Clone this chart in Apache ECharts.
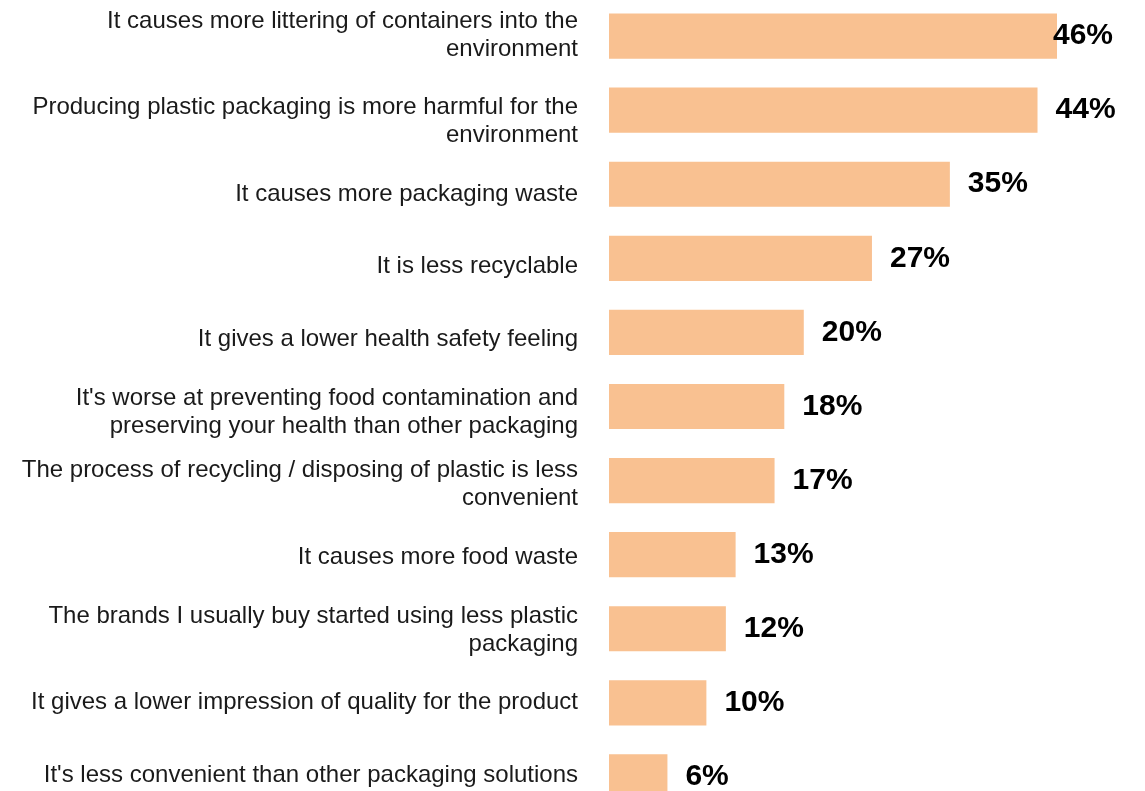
<!DOCTYPE html>
<html>
<head>
<meta charset="utf-8">
<script src="https://cdn.jsdelivr.net/npm/echarts@6/dist/echarts.min.js"></script>
<style>
html,body{margin:0;padding:0;background:#fff;}
#chart{width:1145px;height:791px;}
</style>
</head>
<body>
<div id="chart"></div>
<script>
const categories = [
  "It causes more littering of containers into the\nenvironment",
  "Producing plastic packaging is more harmful for the\nenvironment",
  "It causes more packaging waste",
  "It is less recyclable",
  "It gives a lower health safety feeling",
  "It's worse at preventing food contamination and\npreserving your health than other packaging",
  "The process of recycling / disposing of plastic is less\nconvenient",
  "It causes more food waste",
  "The brands I usually buy started using less plastic\npackaging",
  "It gives a lower impression of quality for the product",
  "It's less convenient than other packaging solutions"
];
const values = [46, 44, 35, 27, 20, 18, 17, 13, 12, 10, 6];

const labelFont = '"Liberation Sans", Arial, sans-serif';

const chart = echarts.init(document.getElementById('chart'));
chart.setOption({
  animation: false,
  backgroundColor: '#ffffff',
  grid: [
    { left: 609, right: 88, top: -1, height: 815, containLabel: false, outerBoundsMode: 'none' },
    { left: 609, right: 88, top: 12.5, height: 799, containLabel: false, outerBoundsMode: 'none' }
  ],
  xAxis: [
    { type: 'value', min: 0, max: 46, show: false, gridIndex: 0 },
    { type: 'value', min: 0, max: 46, show: false, gridIndex: 1 }
  ],
  yAxis: [
    {
      type: 'category', gridIndex: 0, inverse: true, data: categories,
      axisLine: { show: false }, axisTick: { show: false }, axisLabel: { show: false }
    },
    {
      type: 'category', gridIndex: 1, inverse: true, data: categories,
      axisLine: { show: false }, axisTick: { show: false }, splitLine: { show: false },
      axisLabel: {
        margin: 31,
        align: 'right',
        interval: 0,
        showMinLabel: true,
        showMaxLabel: true,
        hideOverlap: false,
        fontFamily: labelFont,
        fontSize: 24,
        lineHeight: 28,
        color: '#1a1a1a',
        formatter: (v, i) => i === 0 ? v + '\n{sp| }' : v,
        rich: {
          sp: { fontSize: 4, lineHeight: 26 }
        }
      }
    }
  ],
  series: [{
    type: 'bar',
    xAxisIndex: 0, yAxisIndex: 0,
    data: values.map((v, i) => i === 0 ? { value: v, label: { distance: -4 } } : v),
    barCategoryGap: '39%',
    itemStyle: { color: '#F9C191' },
    label: {
      show: true,
      position: 'right',
      distance: 18,
      formatter: '{c}%',
      fontFamily: labelFont,
      fontWeight: 'bold',
      fontSize: 30,
      color: '#000'
    }
  }]
});
</script>
</body>
</html>
